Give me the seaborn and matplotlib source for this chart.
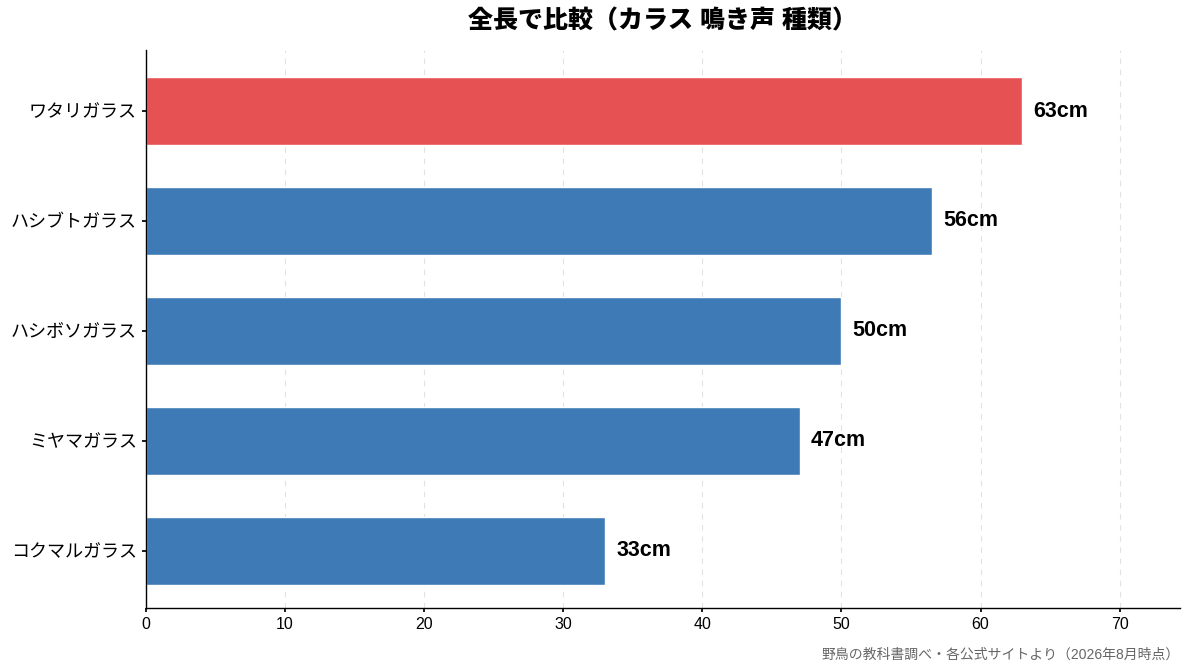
import matplotlib
matplotlib.use("Agg")
import matplotlib.pyplot as plt
import seaborn as sns
import pandas as pd

species = ["ワタリガラス", "ハシブトガラス", "ハシボソガラス", "ミヤマガラス", "コクマルガラス"]
lengths = [63, 56.5, 50, 47, 33]
highlight = "ワタリガラス"
title = "全長で比較（カラス 鳴き声 種類）"
source = "野鳥の教科書調べ・各公式サイトより（2026年8月時点）"

sns.set_theme(style="white")
plt.rcParams["font.family"] = ["Liberation Sans", "Noto Sans CJK JP", "DejaVu Sans"]

df = pd.DataFrame({"species": species, "length": lengths})
palette = {s: ("#E65253" if s == highlight else "#3E7AB6") for s in species}

fig = plt.figure(figsize=(11.93, 6.72), dpi=100)
ax = fig.add_axes([146/1193, 1 - 608/672, (1180-146)/1193, (608-50)/672])

sns.barplot(data=df, y="species", x="length", hue="species", palette=palette,
            order=species, width=0.62, ax=ax, legend=False, saturation=1)

ax.set_xlim(0, max(lengths) * 1.18)
ax.set_ylim(4.52, -0.555)
ax.set_xticks(range(0, 80, 10))
ax.xaxis.grid(True, linestyle=(0, (5, 5)), color="#e2e2e2", linewidth=0.8)
ax.set_axisbelow(True)
ax.set_xlabel("")
ax.set_ylabel("")
sns.despine(ax=ax)
for sp in ["left", "bottom"]:
    ax.spines[sp].set_color("black")
    ax.spines[sp].set_linewidth(1)
    ax.spines[sp].set_zorder(3)
ax.tick_params(axis="y", labelsize=13, length=3, left=True, color="black", labelcolor="black")
ax.tick_params(axis="x", labelsize=11.5, length=3, bottom=True, color="black", labelcolor="black")

for i, v in enumerate(lengths):
    ax.text(v + 0.8, i, f"{v:.0f}cm", va="center", ha="left",
            fontsize=15.5, fontweight="bold", color="black")

fig.text((146 + 1180) / 2 / 1193, 1 - 21 / 672, title, ha="center", va="center",
         fontsize=18, fontweight="heavy", color="black")
fig.text(1180 / 1193, 1 - 655 / 672, source, ha="right", va="center",
         fontsize=10, color="#666666")

fig.savefig("out.png", dpi=100)
